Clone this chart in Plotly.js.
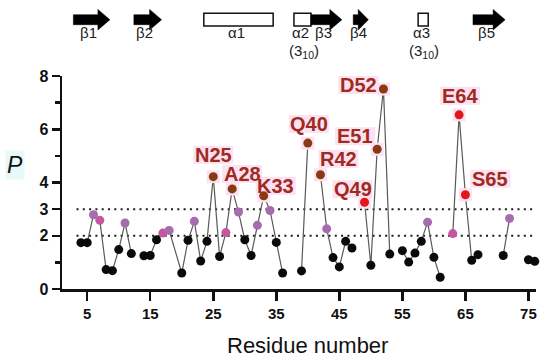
<!DOCTYPE html>
<html>
<head>
<meta charset="utf-8">
<script src="https://cdn.plot.ly/plotly-3.0.1.min.js"></script>
<style>html,body{margin:0;padding:0;background:#fff;}#chart{width:550px;height:360px;}</style>
</head>
<body>
<div id="chart"></div>
<script>
// ---------- data ----------
const residues = [4,5,6,7,8,9,10,11,12,13,14,15,16,17,18,20,21,22,23,24,25,26,27,28,29,30,31,32,33,34,35,36,37,39,40,41,42,43,44,45,46,47,48,49,50,51,52,53,54,55,56,57,58,59,60,61,62,63,64,65,66,67,68,71,72,73,75,76];
const pValues = [1.74,1.74,2.79,2.58,0.73,0.69,1.48,2.48,1.33,null,1.25,1.26,1.85,2.10,2.20,0.60,1.83,2.54,1.05,1.79,4.22,1.22,2.12,3.76,2.89,1.85,1.26,2.39,3.50,2.95,1.75,0.60,null,0.68,5.48,null,4.29,2.26,1.18,0.83,1.79,1.54,null,3.26,0.89,5.25,7.51,1.31,null,1.44,1.01,1.35,1.79,2.51,1.19,0.44,null,2.08,6.54,3.54,1.08,1.29,null,1.26,2.65,null,1.10,1.04];
// class of each point: k = below 2, v = violet, m = magenta, b = brown, r = red
const pClass = ['k','k','v','m','k','k','k','v','k',null,'k','k','k','m','v','k','k','v','k','k','b','k','m','b','v','k','k','v','b','v','k','k',null,'k','b',null,'b','v','k','k','k','k',null,'r','k','b','b','k',null,'k','k','k','k','v','k','k',null,'m','r','r','k','k',null,'k','v',null,'k','k'];
const labelRes  = [25,28,33,40,42,49,51,52,64,65];
const labelText = ['N25','A28','K33','Q40','R42','Q49','E51','D52','E64','S65'];
const thresholds = [2,3];
const yTickVals = [0,2,3,4,6,8];
const xTickVals = [5,15,25,35,45,55,65,75];
// secondary structure (residue ranges)
const ssName  = ['β1','β2','α1','α2','β3','β4','α3','β5'];
const ssKind  = ['strand','strand','helix','helix','strand','strand','helix','strand'];
const ssStart = [2.8,12.4,23.5,37.8,40.5,47.2,57.5,66.2];
const ssEnd   = [8.6,16.8,34.5,40.5,45.4,49.6,59.1,71.3];
const ssSub   = [null,null,null,'(3<sub>10</sub>)',null,null,'(3<sub>10</sub>)',null];

// ---------- styles / geometry ----------
const colors = {k:'#0a0a0a', v:'#a56cae', m:'#c4579f', b:'#8a3a12', r:'#e3161b'};
const labelShift = {N25:[0,22],A28:[10,15],K33:[12,10],Q40:[1,19],R42:[18,16],Q49:[-12,13],E51:[-22,13],D52:[-25,4],E64:[1,19],S65:[25,16]};
const M = {l:62, r:14, t:76, b:71};
const plotH = 360 - M.t - M.b;
const bottomPx = 360 - M.b;
const toPaperY = py => (bottomPx - py) / plotH;
const pxPerRes = 6.3;
const FONT = 'Liberation Sans, Arial, Helvetica, sans-serif';
const PINK = '#fbe1f2';

const markerColors = pClass.map(c => c ? colors[c] : 'rgba(0,0,0,0)');

const lineTrace = {
  x: residues, y: pValues, type: 'scatter', mode: 'lines',
  line: {color: '#5a5a5a', width: 1.2}, connectgaps: false, hoverinfo: 'skip', cliponaxis: false
};
const hiX = [], hiY = [];
labelRes.forEach(r => { const i = residues.indexOf(r); hiX.push(r); hiY.push(pValues[i]); });
const haloTrace = {
  x: hiX, y: hiY, type: 'scatter', mode: 'markers',
  marker: {symbol: 'square', size: 13, color: PINK}, hoverinfo: 'skip', cliponaxis: false
};
const pointTrace = {
  x: residues, y: pValues, type: 'scatter', mode: 'markers',
  marker: {size: 9, color: markerColors, line: {width: 0}}, cliponaxis: false
};

const shapes = [];
thresholds.forEach(t => shapes.push({
  type: 'line', xref: 'x', yref: 'y', x0: 3.3, x1: 75.6, y0: t, y1: t,
  line: {color: '#1a1a1a', width: 2, dash: '2px,4.3px'}, layer: 'below'
}));

const annotations = [];
// secondary structure drawing
const yc = toPaperY(19.7), sh = 5/plotH, hh = 10.3/plotH;
const boxTop = toPaperY(13.3), boxBot = toPaperY(26);
const headLenRes = 12 / pxPerRes;
ssName.forEach((name, i) => {
  const x0 = ssStart[i], x1 = ssEnd[i];
  let lx;
  if (ssKind[i] === 'strand') {
    const head = Math.min(headLenRes, 0.67*(x1-x0));
    const xh = x1 - head;
    shapes.push({
      type: 'path', xref: 'x', yref: 'paper',
      path: `M ${x0},${yc-sh} L ${xh},${yc-sh} L ${xh},${yc-hh} L ${x1},${yc} L ${xh},${yc+hh} L ${xh},${yc+sh} L ${x0},${yc+sh} Z`,
      fillcolor: '#000', line: {color: '#000', width: 0.5}
    });
    lx = (x0 + x1 - head*0.5)/2;
  } else {
    shapes.push({
      type: 'rect', xref: 'x', yref: 'paper', x0: x0, x1: x1, y0: boxBot, y1: boxTop,
      fillcolor: '#fff', line: {color: '#111', width: 1.5}
    });
    lx = (x0 + x1)/2 - 0.3;
  }
  annotations.push({
    x: lx, y: toPaperY(33), xref: 'x', yref: 'paper', text: name, showarrow: false,
    font: {family: FONT, size: 15, color: '#222'}, xanchor: 'center', yanchor: 'middle'
  });
  if (ssSub[i]) {
    annotations.push({
      x: lx + 0.5, y: toPaperY(51.5), xref: 'x', yref: 'paper', text: ssSub[i], showarrow: false,
      font: {family: FONT, size: 15, color: '#222'}, xanchor: 'center', yanchor: 'middle'
    });
  }
});

// residue labels: pink highlight boxes below the markers, text on top
labelRes.forEach((r, i) => {
  const v = pValues[residues.indexOf(r)];
  const s = labelShift[labelText[i]];
  shapes.push({
    type: 'rect', xref: 'x', yref: 'y', xsizemode: 'pixel', ysizemode: 'pixel',
    xanchor: r, yanchor: v, x0: s[0] - 20, x1: s[0] + 20, y0: s[1] - 9, y1: s[1] + 9,
    fillcolor: PINK, line: {width: 0}, layer: 'below'
  });
  annotations.push({
    x: r, y: v, xref: 'x', yref: 'y', text: labelText[i], showarrow: false,
    xshift: s[0], yshift: s[1], xanchor: 'center', yanchor: 'middle',
    font: {family: FONT, size: 20, color: '#a02a1c', weight: 'bold'}
  });
});

// y label P
annotations.push({
  x: (15 - M.l)/(550 - M.l - M.r), y: toPaperY(165), xref: 'paper', yref: 'paper',
  text: '<i>P</i>', showarrow: false, xanchor: 'center', yanchor: 'middle',
  font: {family: FONT, size: 23, color: '#111'}, bgcolor: '#e9f9f9'
});
// x title
annotations.push({
  x: (307 - M.l)/(550 - M.l - M.r), y: toPaperY(345), xref: 'paper', yref: 'paper',
  text: 'Residue number', showarrow: false, xanchor: 'center', yanchor: 'middle',
  font: {family: FONT, size: 22, color: '#111'}
});

const layout = {
  width: 550, height: 360, margin: M, showlegend: false,
  paper_bgcolor: '#fff', plot_bgcolor: '#fff',
  xaxis: {
    range: [1.0, 76.2], showgrid: false, zeroline: false,
    showline: true, linecolor: '#111', linewidth: 2.5,
    tickmode: 'array', tickvals: xTickVals, ticks: 'outside', ticklen: 9, tickwidth: 2.5, tickcolor: '#111',
    tickfont: {family: FONT, size: 15, color: '#111', weight: 'bold'}
  },
  yaxis: {
    range: [0, 8], showgrid: false, zeroline: false,
    showline: true, linecolor: '#111', linewidth: 2.5,
    tickmode: 'array', tickvals: yTickVals, ticks: 'outside', ticklen: 8, tickwidth: 2.5, tickcolor: '#111',
    tickfont: {family: FONT, size: 16, color: '#111', weight: 'bold'},
    minor: {tickmode: 'array', tickvals: [1,5,7], ticks: 'outside', ticklen: 5, tickwidth: 2.5, tickcolor: '#111'}
  },
  shapes: shapes,
  annotations: annotations
};

Plotly.newPlot('chart', [lineTrace, haloTrace, pointTrace], layout, {displayModeBar: false, staticPlot: true});
</script>
</body>
</html>
